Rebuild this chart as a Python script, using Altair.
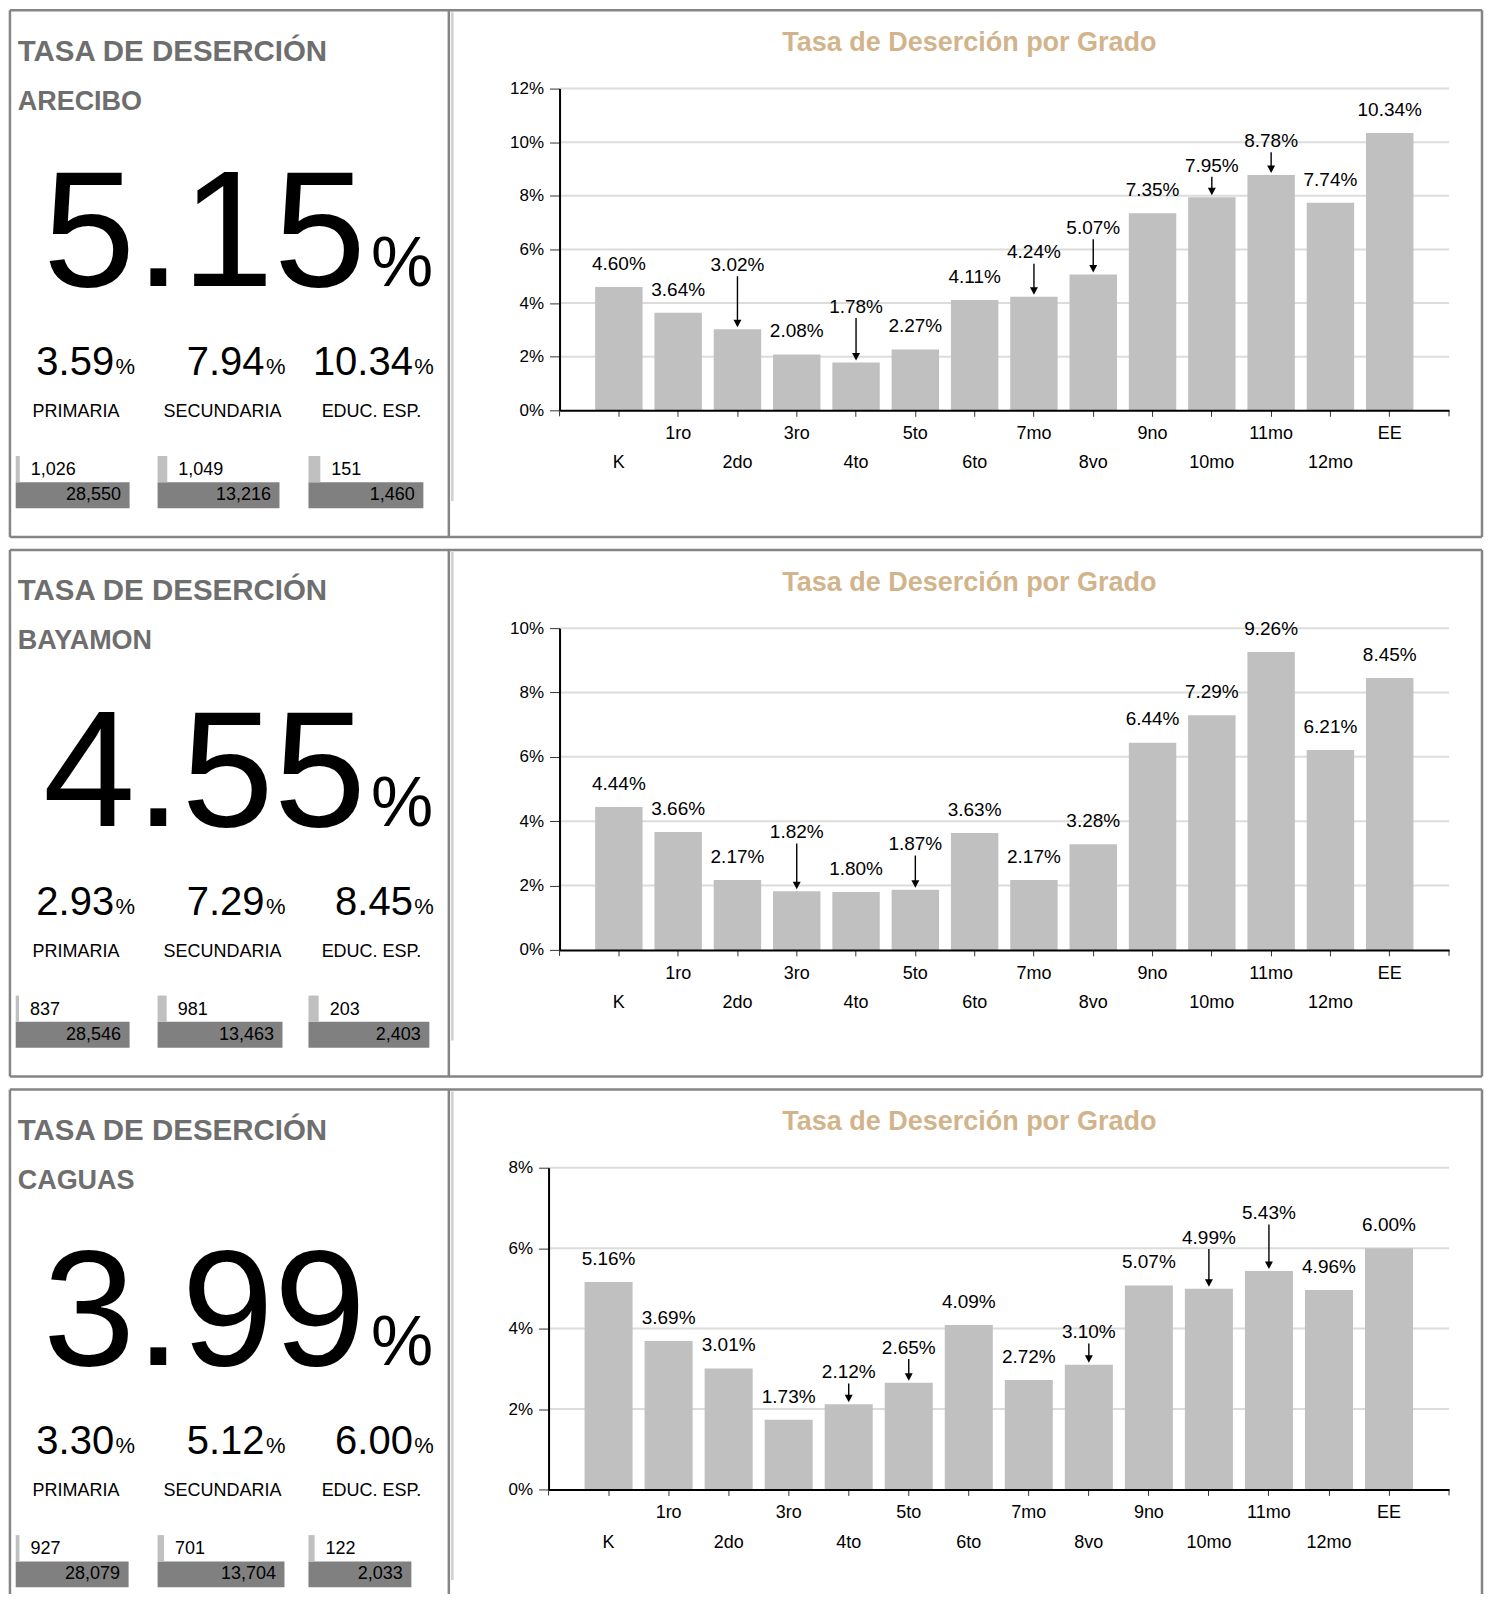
import altair as alt
import pandas as pd

FONT = "Liberation Sans, Arial, Helvetica, sans-serif"

# ---------------- data ----------------
grados = ["K", "1ro", "2do", "3ro", "4to", "5to", "6to", "7mo", "8vo",
          "9no", "10mo", "11mo", "12mo", "EE"]

regiones = ["ARECIBO", "BAYAMON", "CAGUAS"]
tasa_total = ["5.15", "4.55", "3.99"]
tasa_primaria = ["3.59", "2.93", "3.30"]
tasa_secundaria = ["7.94", "7.29", "5.12"]
tasa_educ_esp = ["10.34", "8.45", "6.00"]
niveles = ["PRIMARIA", "SECUNDARIA", "EDUC. ESP."]

bajas_primaria = [1026, 837, 927]
matricula_primaria = [28550, 28546, 28079]
bajas_secundaria = [1049, 981, 701]
matricula_secundaria = [13216, 13463, 13704]
bajas_educ_esp = [151, 203, 122]
matricula_educ_esp = [1460, 2403, 2033]

tasa_arecibo = [4.60, 3.64, 3.02, 2.08, 1.78, 2.27, 4.11, 4.24, 5.07, 7.35, 7.95, 8.78, 7.74, 10.34]
tasa_bayamon = [4.44, 3.66, 2.17, 1.82, 1.80, 1.87, 3.63, 2.17, 3.28, 6.44, 7.29, 9.26, 6.21, 8.45]
tasa_caguas = [5.16, 3.69, 3.01, 1.73, 2.12, 2.65, 4.09, 2.72, 3.10, 5.07, 4.99, 5.43, 4.96, 6.00]
tasas_por_grado = [tasa_arecibo, tasa_bayamon, tasa_caguas]
y_max = [12, 10, 8]

titulo_panel = "TASA DE DESERCIÓN"
titulo_grafica = "Tasa de Deserción por Grado"

# ---------------- layout / style ----------------
ROW_H = 527
H = 322
PLOT_TOP = 78.3
PLOT_LEFT = [559.3, 559.3, 548.3]
ORIGIN = 548.3          # common group origin (page x) of every row
PLOT_RIGHT = 1449.5
WG = PLOT_RIGHT - ORIGIN
BOX_L, BOX_DIV, BOX_R = 9.25, 448.5, 1482.5
BORDER = "#858585"
GREY_TXT = "#6e6e6e"
TAN = "#D2B48C"
BAR = "#c0c0c0"
DARK = "#808080"
GRID = "#dcdcdc"
MINI_X0 = [15, 157, 308]
MINI_W = [[114, 122, 115], [114, 125, 121], [113, 127, 103]]
SUB_RIGHT = [113.5, 264, 412.5]
NIVEL_CX = [75.3, 222, 371]
LBL = 19      # bar value labels
XLBL = 18     # grade labels


def row_chart(r):
    shift = PLOT_LEFT[r] - ORIGIN
    ppu = H / y_max[r]

    def X(px):
        return px - ORIGIN

    def Y(off):
        return off - PLOT_TOP

    one = pd.DataFrame({"a": [0]})

    def texto(t, x, y, size, color="black", weight="normal", align="left"):
        return alt.Chart(pd.DataFrame({"t": [t]})).mark_text(
            font=FONT, fontSize=size, fontWeight=weight, color=color,
            align=align, baseline="alphabetic"
        ).encode(x=alt.value(x), y=alt.value(y), text="t:N")

    def linea(x1, y1, x2, y2, color=BORDER, width=2.5):
        enc = dict(x=alt.value(x1), y=alt.value(y1))
        if x1 != x2:
            enc["x2"] = alt.value(x2)
        if y1 != y2:
            enc["y2"] = alt.value(y2)
        return alt.Chart(one).mark_rule(color=color, strokeWidth=width, strokeCap="butt").encode(**enc)

    # ---- label placement (avoid overlapping neighbour labels) ----
    vals = tasas_por_grado[r]
    centers, lifted = [], []
    prev = None
    for v in vals:
        c = H - v * ppu - 24
        lift = prev is not None and abs(c - prev) < 18
        if lift:
            c = prev - 24.5
        centers.append(c)
        lifted.append(lift)
        prev = c
    df = pd.DataFrame({
        "grado": grados,
        "tasa": vals,
        "etiqueta": [f"{v:.2f}%" for v in vals],
        "pos": [(H - c) / ppu for c in centers],
        "flecha": lifted,
        "idx": list(range(len(grados))),
    })
    ticks_y = list(range(0, y_max[r] + 1, 2))

    def xs():
        return alt.Scale(type="band", domain=grados, range=[shift, WG],
                         paddingInner=0.2, paddingOuter=0.6)

    def ys():
        return alt.Scale(domain=[0, y_max[r]], nice=False, zero=True)

    def x_plain():
        return alt.X("grado:N", sort=grados, scale=xs(), axis=None, bandPosition=0.5)

    grid = alt.Chart(pd.DataFrame({"v": ticks_y[1:]})).mark_rule(
        color=GRID, strokeWidth=2
    ).encode(y=alt.Y("v:Q", scale=ys(), axis=None), x=alt.value(shift), x2=alt.value(WG))

    bars = alt.Chart(df).mark_bar(color=BAR).encode(
        x=alt.X("grado:N", sort=grados, scale=xs(), title=None,
                axis=alt.Axis(orient="bottom", labels=False, ticks=True, tickSize=6,
                              tickWidth=1, tickColor="#333", domain=True,
                              domainColor="black", domainWidth=2, grid=False,
                              bandPosition=0.5, zindex=1)),
        y=alt.Y("tasa:Q", scale=ys(), title=None,
                axis=alt.Axis(orient="left", values=ticks_y, offset=-shift,
                              labelExpr="datum.value + '%'", grid=False,
                              tickSize=10, tickColor="#333", tickWidth=1,
                              domainColor="black", domainWidth=2, labelFontSize=17,
                              labelPadding=6, labelFont=FONT, labelColor="black",
                              zindex=1)),
    )
    etiquetas = alt.Chart(df).mark_text(
        font=FONT, fontSize=LBL, color="black", baseline="alphabetic", dy=0.358 * LBL
    ).encode(x=x_plain(), y=alt.Y("pos:Q", scale=ys(), axis=None), text="etiqueta:N")
    flechas = alt.Chart(df).transform_filter("datum.flecha").mark_rule(
        color="black", strokeWidth=1.4, yOffset=12, y2Offset=-8
    ).encode(x=x_plain(), y=alt.Y("pos:Q", scale=ys(), axis=None), y2="tasa:Q")
    puntas = alt.Chart(df).transform_filter("datum.flecha").mark_point(
        shape="M-0.53,-1L0.53,-1L0,0Z", filled=True, size=225, color="black",
        opacity=1, yOffset=-2
    ).encode(x=x_plain(), y=alt.Y("tasa:Q", scale=ys(), axis=None))
    xlab_arriba = alt.Chart(df).transform_filter("datum.idx % 2 == 1").mark_text(
        font=FONT, fontSize=XLBL, color="black", baseline="alphabetic"
    ).encode(x=x_plain(), y=alt.value(H + 22.3 + 0.358 * XLBL), text="grado:N")
    xlab_abajo = alt.Chart(df).transform_filter("datum.idx % 2 == 0").mark_text(
        font=FONT, fontSize=XLBL, color="black", baseline="alphabetic"
    ).encode(x=x_plain(), y=alt.value(H + 51.7 + 0.358 * XLBL), text="grado:N")

    capas = [grid, bars, etiquetas, flechas, puntas, xlab_arriba, xlab_abajo,
             linea(shift, H, shift, H + 6, "#333", 1),
             linea(WG, H, WG, H + 6, "#333", 1),
             texto(titulo_grafica, X(969.5), Y(40.8), 27, TAN, "bold", "center")]

    # ---- borders ----
    bottom = ROW_H if r < 2 else 505
    capas += [linea(X(BOX_L), Y(0), X(BOX_R), Y(0)),
              linea(X(BOX_L), Y(0), X(BOX_L), Y(bottom)),
              linea(X(BOX_R), Y(0), X(BOX_R), Y(bottom)),
              linea(X(BOX_DIV), Y(0), X(BOX_DIV), Y(bottom)),
              linea(X(452), Y(2), X(452), Y(491), "#d0d0d0", 2.5)]
    if r < 2:
        capas.append(linea(X(BOX_L), Y(ROW_H), X(BOX_R), Y(ROW_H)))

    # ---- left panel texts ----
    capas += [texto(titulo_panel, X(17), Y(50.3), 29.5, GREY_TXT, "bold"),
              texto(regiones[r], X(17), Y(99.5), 27, GREY_TXT, "bold"),
              texto(tasa_total[r], X(365.5), Y(276), 166, "black", "normal", "right"),
              texto("%", X(370.5), Y(276), 70)]
    subs = [tasa_primaria[r], tasa_secundaria[r], tasa_educ_esp[r]]
    for k in range(3):
        capas += [texto(subs[k], X(SUB_RIGHT[k]), Y(365), 40, "black", "normal", "right"),
                  texto("%", X(SUB_RIGHT[k] + 1.5), Y(364), 22),
                  texto(niveles[k], X(NIVEL_CX[k]), Y(407), 18, "black", "normal", "center")]

    # ---- mini bars (each with its own scale) ----
    bajas = [bajas_primaria[r], bajas_secundaria[r], bajas_educ_esp[r]]
    matricula = [matricula_primaria[r], matricula_secundaria[r], matricula_educ_esp[r]]
    for k in range(3):
        a = MINI_X0[k]
        w = MINI_W[r][k]
        d = pd.DataFrame({"cero": [0], "bajas": [bajas[k]], "matricula": [matricula[k]]})

        def sc():
            return alt.Scale(domain=[0, matricula[k]], range=[X(a), X(a + w)],
                             nice=False, zero=True)
        base = alt.Chart(d)
        capas += [
            base.mark_rect(color=DARK).encode(
                x=alt.X("cero:Q", scale=sc(), axis=None), x2="matricula:Q",
                y=alt.value(Y(472.3)), y2=alt.value(Y(498.3))),
            base.mark_rect(color=BAR).encode(
                x=alt.X("cero:Q", scale=sc(), axis=None), x2="bajas:Q",
                y=alt.value(Y(446)), y2=alt.value(Y(472.3))),
            base.mark_text(font=FONT, fontSize=18, color="black", align="left",
                           baseline="alphabetic", dx=11).encode(
                x=alt.X("bajas:Q", scale=sc(), axis=None), y=alt.value(Y(465)),
                text=alt.Text("bajas:Q", format=",")),
            base.mark_text(font=FONT, fontSize=18, color="black", align="right",
                           baseline="alphabetic", dx=-8.6).encode(
                x=alt.X("matricula:Q", scale=sc(), axis=None), y=alt.value(Y(490)),
                text=alt.Text("matricula:Q", format=",")),
        ]

    return alt.layer(*capas).resolve_scale(x="independent", y="independent").properties(
        width=WG, height=H)


chart = alt.vconcat(*[row_chart(r) for r in range(3)], spacing=10).properties(
    padding={"left": 0, "top": 0, "right": 0, "bottom": 0}
).configure_view(stroke=None)

chart.save("out.html", embed_options={"renderer": "svg", "actions": False})
